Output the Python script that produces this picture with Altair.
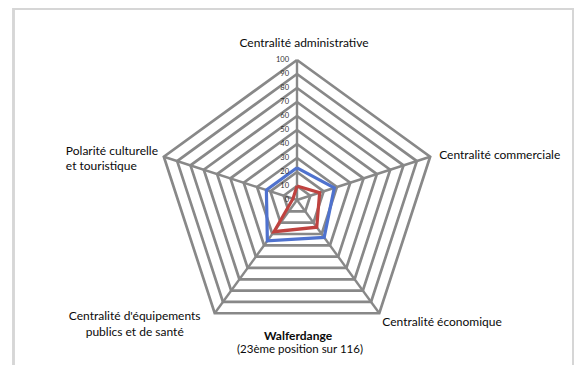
import altair as alt
import pandas as pd

# ---- data ----
axis_labels = [
    "Centralité administrative",
    "Centralité commerciale",
    "Centralité économique",
    "Centralité d'équipements\npublics et de santé",
    "Polarité culturelle\net touristique",
]
blue_values = [23, 28, 33, 36, 23]
red_values = [10, 17, 24, 28, 3]
grid_levels = [10, 20, 30, 40, 50, 60, 70, 80, 90, 100]
tick_values = [0, 10, 20, 30, 40, 50, 60, 70, 80, 90, 100]
tick_labels = ["0", "10", "20", "30", "40", "50", "60", "70", "80", "90", "100"]
title_lines = ["Walferdange", "(23ème position sur 116)"]

N = len(axis_labels)
FONT = "Lato"

# ---- tables ----
series_rows = []
for name, vals in (("blue", blue_values), ("red", red_values)):
    for k in range(N + 1):
        series_rows.append({"s": name, "i": k, "v": vals[k % N]})
series_df = pd.DataFrame(series_rows)

grid_rows = []
for lv in grid_levels:
    for k in range(N + 1):
        grid_rows.append({"lvl": lv, "i": k, "v": lv})
grid_df = pd.DataFrame(grid_rows)

spoke_df = pd.DataFrame({"i": list(range(N)), "v": [grid_levels[-1]] * N, "z": [0] * N})
tick_df = pd.DataFrame({"v": tick_values, "t": tick_labels, "z": [0] * len(tick_values)})
label_df = pd.DataFrame({"i": list(range(N)), "v": [grid_levels[-1]] * N, "lab": axis_labels})

ANG = "PI/2 - datum.i * 2 * PI / %d" % N
XC = "datum.v * cos(%s)" % ANG
YC = "datum.v * sin(%s)" % ANG

W, H = 566, 357
K = 1.4
CX, CY = 289, 192
xscale = alt.Scale(domain=[-CX / K, (W - CX) / K], nice=False, zero=False)
yscale = alt.Scale(domain=[-(H - CY) / K, CY / K], nice=False, zero=False)

def X(f):
    return alt.X(f, type="quantitative", scale=xscale, axis=None)

def Y(f):
    return alt.Y(f, type="quantitative", scale=yscale, axis=None)

GRID = "#888888"

grid = alt.Chart(grid_df).transform_calculate(x=XC, y=YC).mark_line(
    color=GRID, strokeWidth=2.7, strokeJoin="miter"
).encode(x=X("x"), y=Y("y"), detail="lvl:N", order="i:Q")

spokes = alt.Chart(spoke_df).transform_calculate(x=XC, y=YC).mark_rule(
    color=GRID, strokeWidth=2.4
).encode(x=X("z"), y=Y("z"), x2="x:Q", y2="y:Q")

blue = alt.Chart(series_df).transform_filter("datum.s == 'blue'").transform_calculate(
    x=XC, y=YC
).mark_line(color="#4F72CE", strokeWidth=3.2, strokeJoin="miter").encode(
    x=X("x"), y=Y("y"), order="i:Q"
)
red = alt.Chart(series_df).transform_filter("datum.s == 'red'").transform_calculate(
    x=XC, y=YC
).mark_line(color="#BF423F", strokeWidth=3.2, strokeJoin="miter").encode(
    x=X("x"), y=Y("y"), order="i:Q"
)

ticks = alt.Chart(tick_df).mark_text(
    align="right", baseline="middle", dx=-8, fontSize=7.5, font=FONT, color="#333333"
).encode(x=X("z"), y=Y("v"), text="t:N")

label_props = [
    dict(align="center", dx=7, dy=-17),
    dict(align="left", dx=9, dy=-2),
    dict(align="left", dx=3, dy=9),
    dict(align="center", dx=-80, dy=3),
    dict(align="left", dx=-98, dy=-6),
]
labels = []
for k, p in enumerate(label_props):
    labels.append(
        alt.Chart(label_df)
        .transform_filter("datum.i == %d" % k)
        .transform_calculate(x=XC, y=YC)
        .mark_text(baseline="middle", lineBreak="\n", fontSize=12, font=FONT,
                   color="#0a0a0a", lineHeight=15.5, **p)
        .encode(x=X("x"), y=Y("y"), text="lab:N")
    )

title_df = pd.DataFrame({"t": title_lines, "row": [0, 1]})
title1 = alt.Chart(title_df).transform_filter("datum.row == 0").mark_text(
    fontSize=12, font=FONT, fontWeight="bold", color="#0a0a0a", baseline="middle"
).encode(x=alt.value(290), y=alt.value(328), text="t:N")
title2 = alt.Chart(title_df).transform_filter("datum.row == 1").mark_text(
    fontSize=11.5, font=FONT, color="#0a0a0a", baseline="middle"
).encode(x=alt.value(292), y=alt.value(342), text="t:N")

border_l = alt.Chart(tick_df).mark_rule(color="#d6d6d6", strokeWidth=1.5).encode(
    x=alt.value(5.5), y=alt.value(0), y2=alt.value(H)
)
border_t = alt.Chart(tick_df).mark_rule(color="#d6d6d6", strokeWidth=1.5).encode(
    x=alt.value(5.5), x2=alt.value(W), y=alt.value(0.75)
)
border_r = alt.Chart(tick_df).mark_rule(color="#d6d6d6", strokeWidth=1.5).encode(
    x=alt.value(W - 0.75), y=alt.value(0), y2=alt.value(H)
)

chart = alt.layer(
    border_l, border_t, border_r, grid, spokes, blue, red, ticks, *labels, title1, title2
).properties(
    width=W, height=H, padding=0, autosize=alt.AutoSizeParams(type="none"),
    background="white",
).configure_view(stroke=None)

chart.save("out.html", embed_options={"renderer": "svg", "actions": False})
